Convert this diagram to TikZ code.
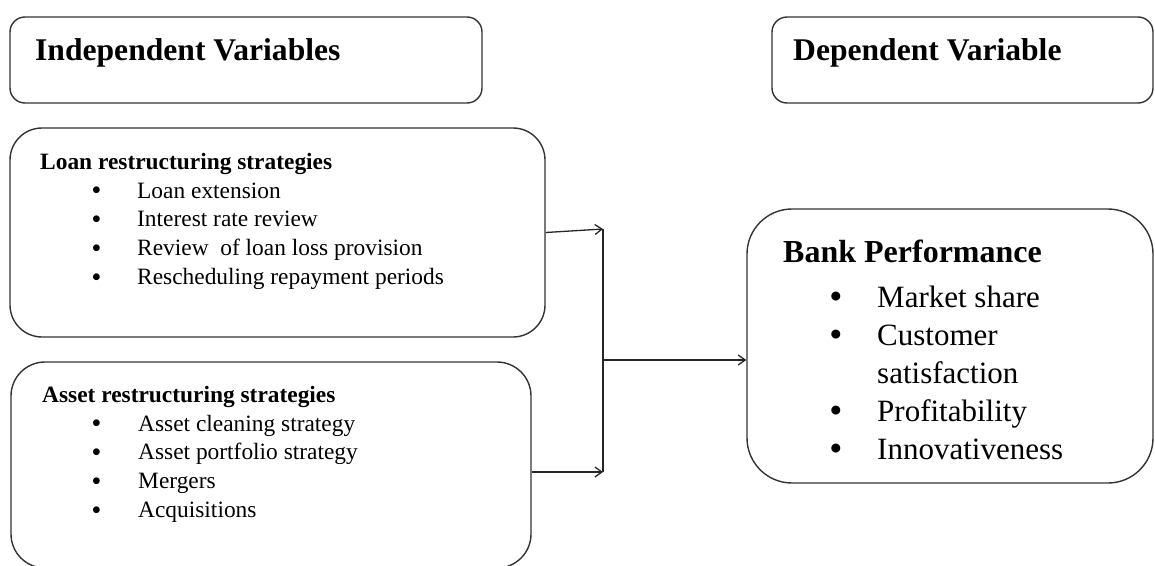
\documentclass[tikz,border=0pt]{standalone}
\usepackage{fontspec}
\setmainfont{Liberation Serif}
\usetikzlibrary{arrows.meta}
\begin{document}
\begin{tikzpicture}[x=1pt,y=-1pt,
  box/.style={draw=black!80, line width=1.4pt, inner sep=0pt},
  hdr/.style={anchor=base west, inner sep=0pt, font=\fontsize{31.6}{36}\selectfont\bfseries},
  ttl/.style={anchor=base west, inner sep=0pt, font=\fontsize{23.4}{28}\selectfont\bfseries},
  itm/.style={anchor=base west, inner sep=0pt, font=\fontsize{23.4}{28}\selectfont},
  bul/.style={anchor=base west, inner sep=0pt, yshift=-0.6pt, font=\fontsize{25}{28}\selectfont\bfseries},
  btl/.style={anchor=base west, inner sep=0pt, font=\fontsize{32}{36}\selectfont\bfseries},
  bitm/.style={anchor=base west, inner sep=0pt, font=\fontsize{31}{36}\selectfont},
  bbul/.style={anchor=base west, inner sep=0pt, yshift=-0.8pt, font=\fontsize{33}{36}\selectfont\bfseries},
  conn/.style={draw=black!85, line width=1.3pt},
  arr/.style={conn, -{Straight Barb[length=7pt,width=10pt]}}
]
\useasboundingbox (0,0) rectangle (1155,565);

% header boxes
\node[box, rounded corners=15pt, minimum width=472pt, minimum height=86pt] (iv) at (246,60) {};
\node[hdr] (ivt) at (35,60) {Independent Variables};
\node[box, rounded corners=15pt, minimum width=381pt, minimum height=86pt] (dv) at (962.5,60) {};
\node[hdr] (dvt) at (793,60) {Dependent Variable};

% loan box
\node[box, rounded corners=32pt, minimum width=535pt, minimum height=209pt] (loan) at (277.5,232.5) {};
\node[ttl] (loant) at (40,169) {Loan restructuring strategies};
\foreach \t [count=\i from 0] in {Loan extension, Interest rate review, Review\ \ of loan loss provision, Rescheduling repayment\ periods}{
  \node[bul] (lb\i) at (92,198+28.8*\i) {•};
  \node[itm] (lt\i) at (137,198+28.8*\i) {\t};
}

% asset box
\node[box, rounded corners=34pt, minimum width=520pt, minimum height=206pt] (asset) at (271,465) {};
\node[ttl] (assett) at (42,402) {Asset restructuring strategies};
\foreach \t [count=\i from 0] in {Asset cleaning strategy, Asset portfolio strategy, Mergers, Acquisitions}{
  \node[bul] (ab\i) at (92,431+28.8*\i) {•};
  \node[itm] (at\i) at (138,431+28.8*\i) {\t};
}

% bank box
\node[box, rounded corners=45pt, minimum width=406pt, minimum height=274pt] (bank) at (950,346) {};
\node[btl] (bankt) at (783,262) {Bank Performance};
\node[bbul] (bb1) at (830,307) {•};
\node[bitm] (bt1) at (877,307) {Market share};
\node[bbul] (bb2) at (830,345) {•};
\node[bitm] (bt2) at (877,345) {Customer};
\node[bitm] (bt2b) at (877,383) {satisfaction};
\node[bbul] (bb3) at (830,421) {•};
\node[bitm] (bt3) at (877,421) {Profitability};
\node[bbul] (bb4) at (830,459) {•};
\node[bitm] (bt4) at (877,459) {Innovativeness};

% connectors
\coordinate (j1) at (603,229);
\coordinate (j2) at (603,472);
\coordinate (jm) at (603,360);
\draw[arr] (loan.east) -- (j1);
\draw[arr] (asset.east |- j2) -- (j2);
\draw[conn] (j1) -- (j2);
\draw[arr] (jm) -- (bank.west |- jm);
\end{tikzpicture}
\end{document}
